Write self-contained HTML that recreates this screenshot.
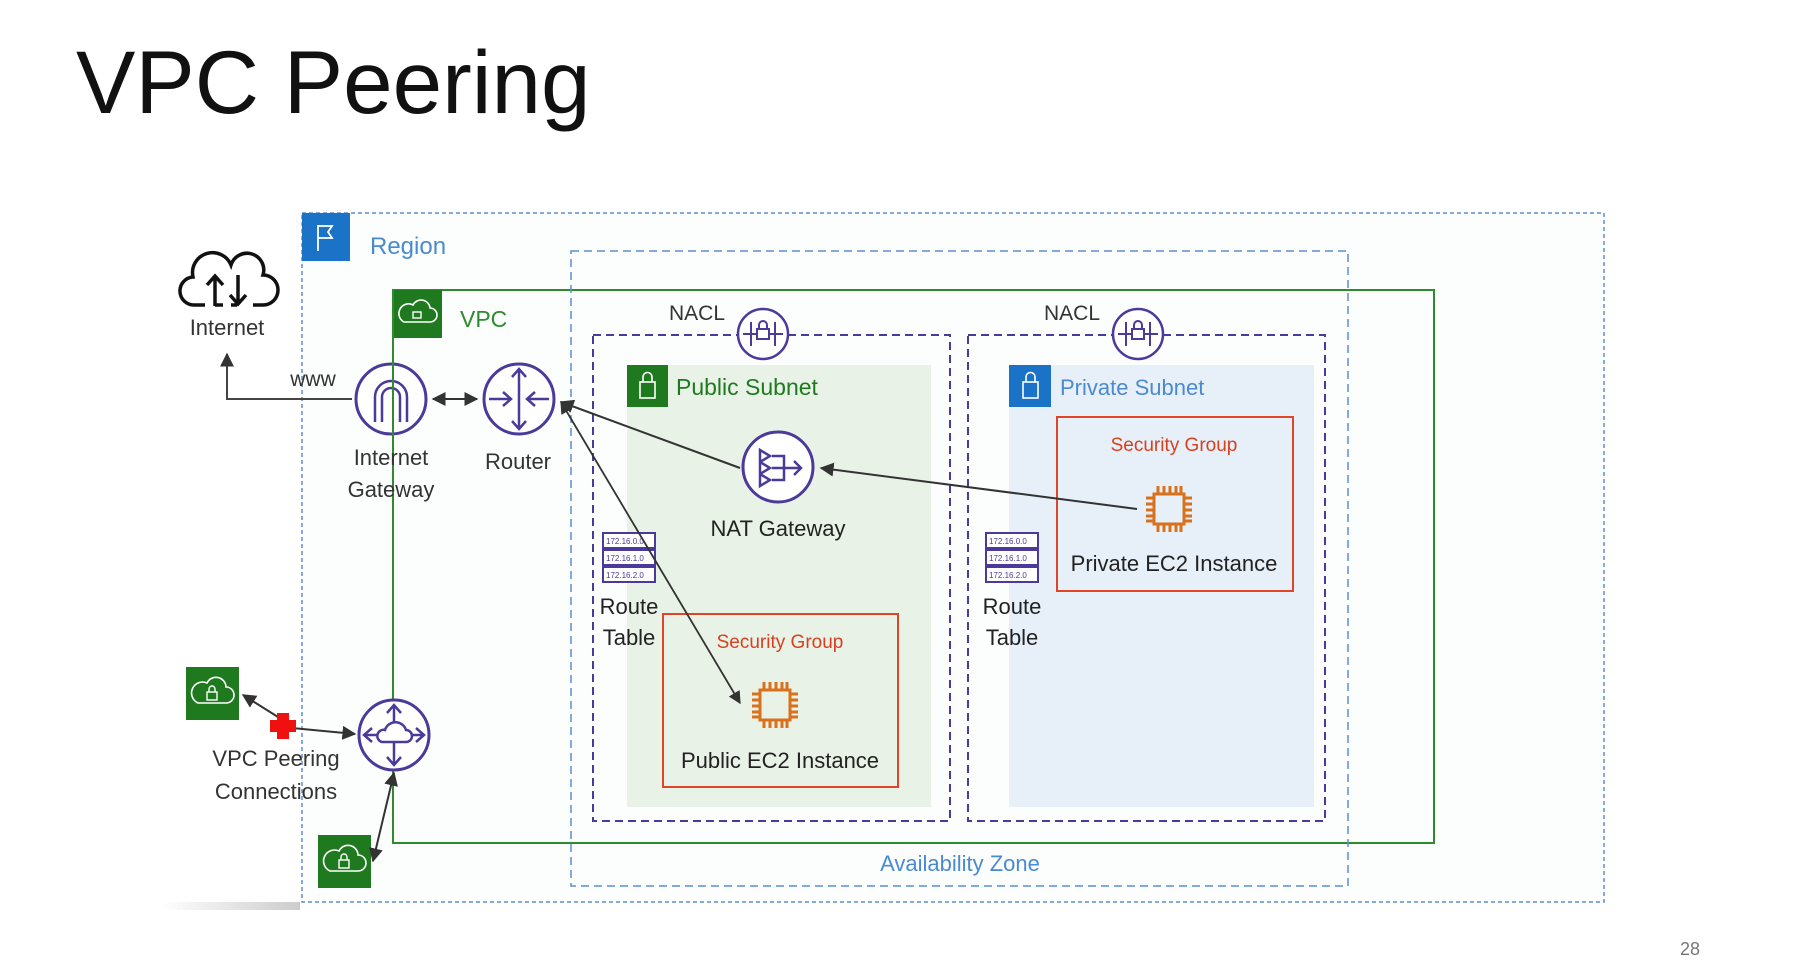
<!DOCTYPE html>
<html><head><meta charset="utf-8"><style>
html,body{margin:0;padding:0;background:#fff;}
svg{display:block;font-family:"Liberation Sans",sans-serif;}
</style></head><body>
<svg width="1813" height="970" viewBox="0 0 1813 970" xmlns="http://www.w3.org/2000/svg">
<defs>
<marker id="ah" viewBox="0 0 10 10" refX="9" refY="5" markerWidth="7" markerHeight="7" orient="auto-start-reverse"><path d="M0,0 L10,5 L0,10 z" fill="#333"/></marker>
<linearGradient id="sh" x1="0" x2="1"><stop offset="0" stop-color="#fff"/><stop offset="1" stop-color="#ccc"/></linearGradient>
</defs>
<rect width="1813" height="970" fill="#fff"/>
<text x="76" y="113" font-size="89" fill="#111">VPC Peering</text>
<polygon points="161,902 300,902 300,910 161,910" fill="url(#sh)"/>

<rect x="302" y="213" width="1302" height="689" fill="#fcfdfd" stroke="#5b8fd0" stroke-width="1.5" stroke-dasharray="4,3"/>
<rect x="302" y="213" width="48" height="48" fill="#1a73c6"/>
<path d="M318,225 V251 M318,226 H332 L328,232 L332,238 H318" stroke="#fff" stroke-width="1.8" fill="none"/>
<text x="370" y="254" font-size="24" fill="#4a8ad0">Region</text>

<rect x="393" y="290" width="1041" height="553" fill="none" stroke="#2e8b2e" stroke-width="2"/>
<rect x="393" y="290" width="49" height="48" fill="#1f7a1f"/>
<path d="M404,322 h26 a7,7 0 0 0 0,-14 a9,9 0 0 0 -17,-3 a7,7 0 0 0 -9,17z" stroke="#fff" stroke-width="1.6" fill="none"/>
<rect x="413" y="312" width="8" height="6" stroke="#fff" stroke-width="1.4" fill="none"/>
<text x="460" y="327" font-size="23" fill="#2e8b2e">VPC</text>

<rect x="571" y="251" width="777" height="635" fill="none" stroke="#5b8fd0" stroke-width="1.5" stroke-dasharray="8,5"/>
<text x="960" y="871" font-size="22" fill="#4a8ad0" text-anchor="middle">Availability Zone</text>

<rect x="627" y="365" width="304" height="442" fill="#e9f2e7"/>
<rect x="1009" y="365" width="305" height="442" fill="#e7f0f8"/>
<rect x="593" y="335" width="357" height="486" fill="none" stroke="#4b3a99" stroke-width="2" stroke-dasharray="8,5"/>
<rect x="968" y="335" width="357" height="486" fill="none" stroke="#4b3a99" stroke-width="2" stroke-dasharray="8,5"/>
<g id="nacl">
<circle cx="763" cy="334" r="25" fill="#fff" stroke="#4b3a99" stroke-width="2.5"/>
<path d="M743,334 h40 M751,322 v24 M775,322 v24" stroke="#4b3a99" stroke-width="2"/>
<rect x="757" y="329" width="12" height="10" fill="#fff" stroke="#4b3a99" stroke-width="2"/>
<path d="M759,329 v-4 a4,4 0 0 1 8,0 v4" stroke="#4b3a99" stroke-width="2" fill="none"/>
</g>
<use href="#nacl" x="375"/>
<text x="697" y="320" font-size="21" fill="#333" text-anchor="middle">NACL</text>
<text x="1072" y="320" font-size="21" fill="#333" text-anchor="middle">NACL</text>

<rect x="627" y="365" width="41" height="42" fill="#1f7a1f"/>
<rect x="1009" y="365" width="42" height="42" fill="#1a73c6"/>
<g stroke="#fff" stroke-width="1.6" fill="none">
<rect x="640" y="382" width="15" height="16"/><path d="M643,382 v-5 a4.5,4.5 0 0 1 9,0 v5"/>
<rect x="1023" y="382" width="15" height="16"/><path d="M1026,382 v-5 a4.5,4.5 0 0 1 9,0 v5"/>
</g>
<text x="676" y="395" font-size="23" fill="#1f7a1f">Public Subnet</text>
<text x="1060" y="395" font-size="22" fill="#4a8ad0">Private Subnet</text>

<rect x="663" y="614" width="235" height="173" fill="none" stroke="#e0452a" stroke-width="2"/>
<rect x="1057" y="417" width="236" height="174" fill="none" stroke="#e0452a" stroke-width="2"/>
<text x="780" y="648" font-size="19" fill="#d8401f" text-anchor="middle">Security Group</text>
<text x="1174" y="451" font-size="19" fill="#d8401f" text-anchor="middle">Security Group</text>
<g id="chip" stroke="#d9701c" stroke-width="3" fill="none">
<rect x="760" y="690" width="30" height="30"/>
<path d="M764,690 v-8 M770,690 v-8 M776,690 v-8 M782,690 v-8 M787,690 v-8 M764,720 v8 M770,720 v8 M776,720 v8 M782,720 v8 M787,720 v8 M760,694 h-8 M760,700 h-8 M760,706 h-8 M760,712 h-8 M760,717 h-8 M790,694 h8 M790,700 h8 M790,706 h8 M790,712 h8 M790,717 h8"/>
</g>
<use href="#chip" x="394" y="-196"/>
<text x="780" y="768" font-size="22" fill="#222" text-anchor="middle">Public EC2 Instance</text>
<text x="1174" y="571" font-size="22" fill="#222" text-anchor="middle">Private EC2 Instance</text>

<g id="rt" font-size="8" fill="#4b3a99">
<rect x="603" y="533" width="52" height="15" fill="#fff" stroke="#4b3a99" stroke-width="2"/>
<rect x="603" y="550" width="52" height="15" fill="#fff" stroke="#4b3a99" stroke-width="2"/>
<rect x="603" y="567" width="52" height="15" fill="#fff" stroke="#4b3a99" stroke-width="2"/>
<text x="606" y="544">172.16.0.0</text><text x="606" y="561">172.16.1.0</text><text x="606" y="578">172.16.2.0</text>
</g>
<use href="#rt" x="383"/>
<g font-size="22" fill="#222" text-anchor="middle">
<text x="629" y="614">Route</text><text x="629" y="645">Table</text>
<text x="1012" y="614">Route</text><text x="1012" y="645">Table</text>
</g>

<circle cx="778" cy="467" r="35" fill="#fff" stroke="#4b3a99" stroke-width="3"/>
<g stroke="#4b3a99" stroke-width="2.5" fill="none">
<path d="M760,450 l10,6 l-10,6z M760,462 l10,6 l-10,6z M760,474 l10,6 l-10,6z"/>
<path d="M772,456 h12 v24 h-12 M772,468 h28 M794,461 l7,7 l-7,7"/>
</g>
<text x="778" y="536" font-size="22" fill="#222" text-anchor="middle">NAT Gateway</text>

<g stroke="#111" stroke-width="3.5" fill="none">
<path d="M205,305 h-10 a14,14 0 0 1 -2,-28 a20,20 0 0 1 38,-12 a16,16 0 0 1 32,10 a12,12 0 0 1 0,30 h-10"/>
<path d="M215,306 v-28 M207,285 l8,-9 l8,9 M238,275 v28 M230,295 l8,9 l8,-9 M215,305 h8 M231,305 h6"/>
</g>
<text x="227" y="335" font-size="22" fill="#333" text-anchor="middle">Internet</text>
<text x="313" y="386" font-size="21" fill="#333" text-anchor="middle">www</text>
<path d="M352,399 H227 V354" stroke="#444" stroke-width="2" fill="none" marker-end="url(#ah)"/>

<circle cx="391" cy="399" r="35" fill="#fff" stroke="#4b3a99" stroke-width="3"/>
<path d="M375,422 v-25 a16,16 0 0 1 32,0 v25 M382,422 v-25 a9,9 0 0 1 18,0 v25" stroke="#4b3a99" stroke-width="2.5" fill="none"/>
<line x1="393" y1="290" x2="393" y2="843" stroke="#2e8b2e" stroke-width="2"/>
<text x="391" y="465" font-size="22" fill="#333" text-anchor="middle">Internet</text>
<text x="391" y="497" font-size="22" fill="#333" text-anchor="middle">Gateway</text>

<circle cx="519" cy="399" r="35" fill="#fff" stroke="#4b3a99" stroke-width="3"/>
<g stroke="#4b3a99" stroke-width="2.5" fill="none">
<path d="M519,369 v60 M512,377 l7,-8 l7,8 M512,421 l7,8 l7,-8 M489,399 h22 M503,392 l8,7 l-8,7 M549,399 h-22 M535,392 l-8,7 l8,7"/>
</g>
<text x="518" y="469" font-size="22" fill="#333" text-anchor="middle">Router</text>
<line x1="433" y1="399" x2="477" y2="399" stroke="#333" stroke-width="2" marker-start="url(#ah)" marker-end="url(#ah)"/>

<line x1="740" y1="468" x2="561" y2="402" stroke="#333" stroke-width="2" marker-end="url(#ah)"/>
<line x1="1137" y1="509" x2="821" y2="468" stroke="#333" stroke-width="2" marker-end="url(#ah)"/>
<line x1="561" y1="402" x2="740" y2="703" stroke="#333" stroke-width="1.8" marker-start="url(#ah)" marker-end="url(#ah)"/>

<circle cx="394" cy="735" r="35" fill="#fff" stroke="#4b3a99" stroke-width="3"/>
<g stroke="#4b3a99" stroke-width="2.5" fill="none">
<path d="M394,705 v60 M387,713 l7,-8 l7,8 M387,757 l7,8 l7,-8 M364,735 h60 M372,728 l-8,7 l8,7 M416,728 l8,7 l-8,7"/>
<path d="M382,742 h24 a6,6 0 0 0 0,-12 a11,11 0 0 0 -21,0 a6,6 0 0 0 -3,12z" fill="#fff"/>
</g>
<g id="vpcic">
<rect x="186" y="667" width="53" height="53" fill="#1f7a1f"/>
<path d="M198,703 h28 a8,8 0 0 0 0,-16 a10,10 0 0 0 -19,-4 a9,9 0 0 0 -9,20z" stroke="#fff" stroke-width="1.6" fill="none"/>
<rect x="207" y="692" width="10" height="8" stroke="#fff" stroke-width="1.4" fill="none"/>
<path d="M209,692 v-3 a3,3 0 0 1 6,0 v3" stroke="#fff" stroke-width="1.4" fill="none"/>
</g>
<use href="#vpcic" x="132" y="168"/>
<line x1="278" y1="717" x2="243" y2="695" stroke="#333" stroke-width="2" marker-end="url(#ah)"/>
<line x1="292" y1="728" x2="355" y2="734" stroke="#333" stroke-width="2" marker-end="url(#ah)"/>
<line x1="394" y1="773" x2="373" y2="861" stroke="#333" stroke-width="2" marker-start="url(#ah)" marker-end="url(#ah)"/>
<path d="M277,713 h12 v7 h7 v12 h-7 v7 h-12 v-7 h-7 v-12 h7z" fill="#f01010"/>
<text x="276" y="766" font-size="22" fill="#333" text-anchor="middle">VPC Peering</text>
<text x="276" y="799" font-size="22" fill="#333" text-anchor="middle">Connections</text>

<text x="1690" y="955" font-size="18" fill="#777" text-anchor="middle">28</text>
</svg>
</body></html>
